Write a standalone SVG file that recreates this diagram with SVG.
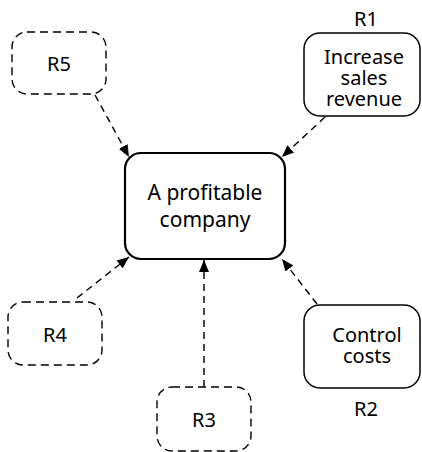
<svg xmlns="http://www.w3.org/2000/svg" width="422" height="452" viewBox="0 0 422 452">
  <style>
    text { font-family: "Noto Sans", "Open Sans", sans-serif; font-size: 20px; fill: #000; text-anchor: middle; }
    .big { font-size: 21px; }
    .box { fill: #fff; stroke: #000; stroke-width: 1.5; }
    .main { fill: #fff; stroke: #000; stroke-width: 2.2; }
    .dash { fill: #fff; stroke: #000; stroke-width: 1.4; stroke-dasharray: 8 5; }
    .link { fill: none; stroke: #000; stroke-width: 1.4; stroke-dasharray: 7 5; marker-end: url(#head); }
  </style>
  <defs>
    <marker id="head" viewBox="0 0 12 10" refX="12" refY="5" markerWidth="12" markerHeight="10" markerUnits="userSpaceOnUse" orient="auto">
      <path d="M0,0 L12,5 L0,10 Z" fill="#000"/>
    </marker>
  </defs>

  <g id="connectors">
    <line class="link" x1="95" y1="95" x2="129" y2="157"/>
    <line class="link" x1="325" y1="117" x2="282" y2="157"/>
    <line class="link" x1="77" y1="298" x2="129" y2="257"/>
    <line class="link" x1="204" y1="387" x2="204" y2="260"/>
    <line class="link" x1="317" y1="304" x2="282" y2="259"/>
  </g>

  <g id="main">
    <rect class="main" x="125" y="153" width="160" height="106" rx="16"/>
    <text class="big" x="205" y="200">A profitable</text>
    <text class="big" x="205" y="227">company</text>
  </g>

  <g id="r1">
    <text x="366" y="26">R1</text>
    <rect class="box" x="304" y="33" width="116" height="83" rx="16"/>
    <text x="364" y="64">Increase</text>
    <text x="364" y="85">sales</text>
    <text x="364" y="106">revenue</text>
  </g>

  <g id="r2">
    <rect class="box" x="304" y="305" width="116" height="83" rx="16"/>
    <text x="367" y="342">Control</text>
    <text x="367" y="363">costs</text>
    <text x="366" y="416">R2</text>
  </g>

  <g id="r3">
    <rect class="dash" x="157" y="387" width="94" height="64" rx="15"/>
    <text x="204" y="427">R3</text>
  </g>

  <g id="r4">
    <rect class="dash" x="8" y="302" width="94" height="63" rx="15"/>
    <text x="55" y="342">R4</text>
  </g>

  <g id="r5">
    <rect class="dash" x="12" y="32" width="94" height="62" rx="15"/>
    <text x="59" y="71">R5</text>
  </g>
</svg>
